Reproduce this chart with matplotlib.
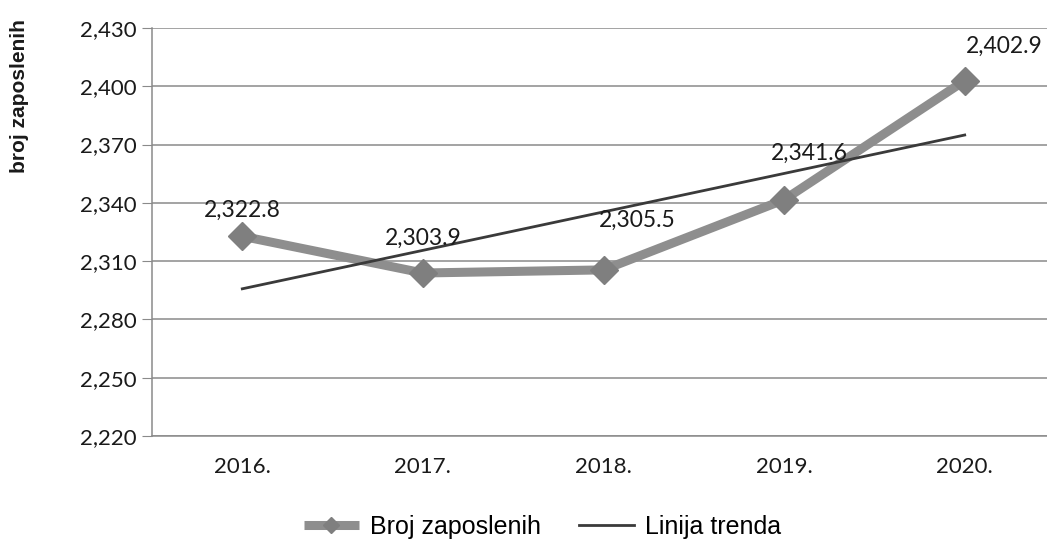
import numpy as np
import matplotlib.pyplot as plt
from matplotlib.ticker import FuncFormatter

years = ['2016.', '2017.', '2018.', '2019.', '2020.']
zaposleni = [2322.8, 2303.9, 2305.5, 2341.6, 2402.9]
y_ticks = [2220, 2250, 2280, 2310, 2340, 2370, 2400, 2430]

# data label offsets in pixels (dx, dy)
label_offsets = [(0, 26), (0, 35), (34, 50), (25, 46), (40, 34)]

x = np.arange(len(years))
coef = np.polyfit(x, zaposleni, 1)
trend = np.polyval(coef, x)

fig = plt.figure(figsize=(10.47, 5.45), dpi=100)
ax = fig.add_axes([152 / 1047, 109 / 545, 903 / 1047, 408 / 545])

ax.plot(x, zaposleni, color='#8e8e8e', linewidth=6.5, solid_capstyle='butt',
        marker='D', markersize=14, markerfacecolor='#7f7f7f',
        markeredgecolor='#7f7f7f', label='Broj zaposlenih', zorder=3)
ax.plot(x, trend, color='#3a3a3a', linewidth=2, label='Linija trenda', zorder=4)

for xi, val, (dx, dy) in zip(x, zaposleni, label_offsets):
    ax.annotate(f'{val:,.1f}', (xi, val), xytext=(dx * 0.72, dy * 0.72),
                textcoords='offset points', ha='center', va='center',
                fontsize=16.5, family='Lato', color='#1a1a1a', zorder=5)

ax.set_xlim(-0.5, 4.5)
ax.set_ylim(2220, 2430)
ax.set_yticks(y_ticks)
ax.yaxis.set_major_formatter(FuncFormatter(lambda v, p: f'{v:,.0f}'))
ax.set_xticks(x)
ax.set_xticklabels(years)
ax.grid(axis='y', color='#8a8a8a', linewidth=1.1)
ax.set_axisbelow(True)

for side in ['top', 'right']:
    ax.spines[side].set_visible(False)
ax.spines['left'].set_color('#8a8a8a')
ax.spines['bottom'].set_color('#8a8a8a')
ax.spines['left'].set_linewidth(1.1)
ax.spines['bottom'].set_linewidth(1.1)

ax.tick_params(axis='y', length=7, color='#8a8a8a', pad=4, labelsize=16,
               labelcolor='#1a1a1a')
ax.tick_params(axis='x', length=0, pad=15, labelsize=16, labelcolor='#1a1a1a')
for lbl in ax.get_xticklabels() + ax.get_yticklabels():
    lbl.set_family('Lato')

fig.text(20 / 1047, 1 - 96 / 545, 'broj zaposlenih', rotation=90, ha='center',
         va='center', fontsize=15, fontweight='bold',
         family='Liberation Sans', color='#1a1a1a')

fig.legend(loc='center', bbox_to_anchor=(0.518, 0.033), ncol=2, frameon=False,
           prop={'family': 'Liberation Sans', 'size': 18}, handlelength=2.2,
           columnspacing=1.5, handletextpad=0.45, markerscale=0.55,
           borderpad=0)

fig.savefig('out.png', dpi=100)
